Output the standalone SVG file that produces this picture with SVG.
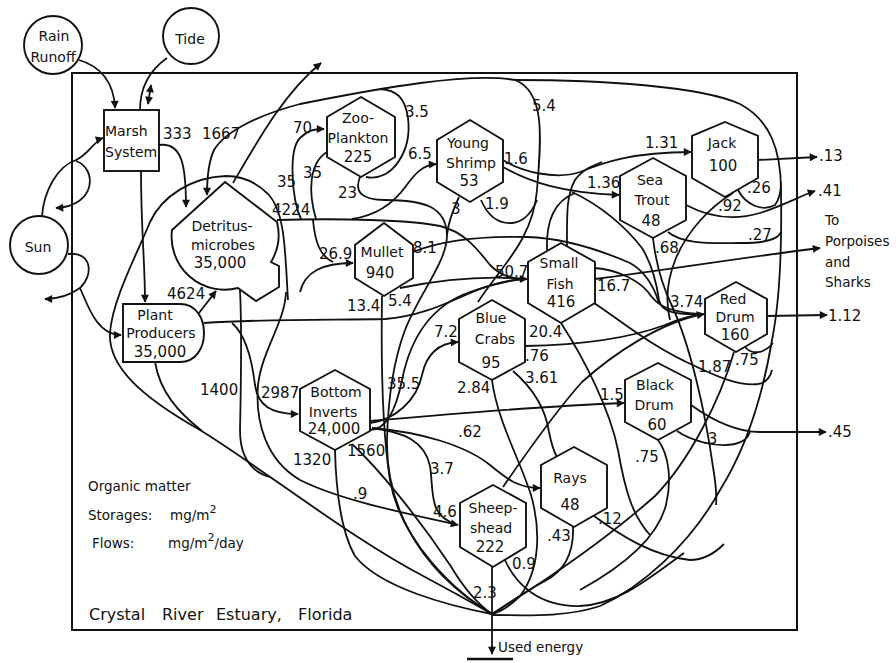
<svg xmlns="http://www.w3.org/2000/svg" width="896" height="663" viewBox="0 0 896 663">
<defs>
<marker id="ah" viewBox="0 0 10 10" refX="9" refY="5" markerWidth="11" markerHeight="8" markerUnits="userSpaceOnUse" orient="auto-start-reverse"><path d="M0,0 L10,5 L0,10 z" fill="#111"/></marker>
<style>
.l{fill:none;stroke:#111;stroke-width:1.8}
.a{marker-end:url(#ah)}
.n{fill:#fff;stroke:#111;stroke-width:1.9}
text{font-family:"DejaVu Sans",Verdana,"Liberation Sans",sans-serif;fill:#111}
.t{font-size:14px;text-anchor:middle}
.s{font-size:15px;text-anchor:middle}
.v{font-size:15px}
.g{font-size:13.5px}
</style>
</defs>
<rect width="896" height="663" fill="#fff"/>
<rect x="72" y="73" width="725" height="557" fill="none" stroke="#111" stroke-width="2"/>
<g id="connectors">
<path class="l a" d="M79,60 C100,66 114,82 115,108"/>
<path class="l" d="M167,58 C150,70 140,88 140,110"/>
<path class="l a" d="M151,85 L148,104" marker-start="url(#ah)"/>
<path class="l a" d="M42,216 C44,190 58,166 76,160 C88,155 94,141 103,138"/>
<path class="l a" d="M76,161 C97,168 97,206 56,208"/>
<path class="l a" d="M68,254 C92,251 94,275 80,288 C88,306 97,335 121,335"/>
<path class="l a" d="M80,288 C70,295 60,299 45,299"/>
<path class="l a" d="M141,171 C141,230 145,262 145,302"/>
<path class="l a" d="M159,145 C182,142 186,165 186,207"/>
<path class="l a" d="M199,313 L216,291"/>
<path class="l a" d="M478,302 C500,268 533,240 537,190 C541,140 546,92 515,80 C470,72 380,88 300,104 C262,114 226,130 214,150 C208,163 207,180 207,195"/>
<path class="l" d="M515,80 C600,80 700,86 740,104 C770,120 781,150 781,190 C782,250 780,300 772,340 C762,400 745,450 720,490 C690,545 640,588 600,606 C565,618 520,615 492,615"/>
<path class="l a" d="M233,183 C258,140 285,92 321,63"/>
<path class="l" d="M366,177 C393,182 412,150 408,118 C405,97 396,90 380,89"/>
<path class="l" d="M481,200 C487,214 497,224 512,223 C524,222 532,212 537,200"/>
<path class="l" d="M288,300 C285,255 286,213 268,194 C255,181 242,176 226,176 C192,177 162,196 150,222 C138,252 112,300 110,333 C108,366 140,396 200,430 C265,470 350,538 425,577 C455,593 478,606 492,614"/>
<path class="l" d="M155,362 C160,392 178,412 202,431"/>
<path class="l" d="M277,220 C340,218 410,220 440,226 C465,232 478,250 490,265 C500,275 510,279 527,279"/>
<path class="l a" d="M301,219 C292,200 288,150 300,138 C307,131 313,129 324,129"/>
<path class="l" d="M327,152 C309,163 308,192 316,219"/>
<path class="l a" d="M300,292 C305,272 322,263 353,263"/>
<path class="l" d="M313,220 C315,242 320,256 333,262"/>
<path class="l" d="M360,177 C354,192 362,200 385,200 C425,200 446,207 447,235 C447,262 420,292 405,330 C393,362 388,400 387,440 C386,495 410,565 492,614"/>
<path class="l" d="M459,197 C452,212 448,224 447,235"/>
<path class="l a" d="M352,219 C380,215 396,200 406,186 C416,172 424,165 436,164"/>
<path class="l a" d="M503,160 C522,172 556,180 580,172 C602,163 632,152 691,152"/>
<path class="l a" d="M503,167 C530,182 562,193 619,195"/>
<path class="l" d="M567,250 C567,215 566,196 575,180 C582,170 592,166 602,162"/>
<path class="l" d="M547,250 C546,225 552,202 575,193"/>
<path class="l" d="M572,192 C600,205 625,226 642,248 C653,266 657,286 659,300 C661,312 676,315 702,314"/>
<path class="l" d="M413,252 C440,241 482,236 527,237 C562,238 600,250 630,263 C648,273 655,290 659,303"/>
<path class="l" d="M595,268 C618,270 638,280 648,292 C655,302 662,312 702,314"/>
<path class="l a" d="M503,487 C525,455 555,412 582,382 C612,355 660,322 704,314"/>
<path class="l a" d="M595,279 C660,271 740,258 820,248"/>
<path class="l" d="M382,296 C381,360 382,430 390,480 C400,540 455,592 492,614"/>
<path class="l" d="M400,288 C430,282 480,275 526,279"/>
<path class="l a" d="M204,323 C262,319 330,320 385,319 C425,316 452,300 480,289 C496,283 510,279 527,279"/>
<path class="l a" d="M232,323 C246,335 252,360 255,385 C258,405 270,414 298,414"/>
<path class="l" d="M240,290 C242,330 241,385 240,430 C240,458 252,472 270,477"/>
<path class="l a" d="M286,292 C285,322 262,350 258,385 C255,422 266,460 300,480 C340,500 400,512 458,525"/>
<path class="l" d="M372,428 C405,432 425,442 430,466 C434,492 428,516 456,524"/>
<path class="l" d="M335,450 C336,490 340,530 355,556 C380,588 450,606 492,614"/>
<path class="l" d="M352,444 C380,470 420,520 450,565 C465,590 480,606 492,614"/>
<path class="l a" d="M370,423 C395,420 417,400 422,375 C427,352 440,343 458,342"/>
<path class="l" d="M370,430 C390,430 398,400 402,380 C410,340 430,306 470,292 C490,285 510,280 526,279"/>
<path class="l a" d="M370,421 C450,414 540,406 624,403"/>
<path class="l a" d="M372,428 C420,432 465,445 490,465 C506,478 517,488 540,488"/>
<path class="l" d="M525,346 C580,345 630,338 665,325 C682,318 692,315 704,314"/>
<path class="l" d="M513,371 C535,390 546,412 549,432 C551,442 553,450 557,457"/>
<path class="l" d="M492,380 C497,420 520,460 531,495 C541,530 540,570 520,596 C510,606 500,612 492,614"/>
<path class="l" d="M594,303 C620,320 650,346 697,367 C720,378 740,386 758,384 C765,383 770,378 772,370"/>
<path class="l" d="M745,347 C752,355 764,354 773,343"/>
<path class="l" d="M734,352 C720,400 690,460 655,496 C610,536 550,578 492,614"/>
<path class="l" d="M677,431 C690,440 715,448 735,444 C744,442 748,438 750,432"/>
<path class="l" d="M658,440 C669,455 672,480 666,505 C657,540 620,568 580,590"/>
<path class="l a" d="M691,405 C712,420 735,432 760,432 L826,432"/>
<path class="l" d="M594,516 C620,535 652,556 690,560 C705,560 716,552 724,544"/>
<path class="l" d="M573,527 C574,552 566,570 545,581 C522,593 505,606 492,614"/>
<path class="l" d="M505,560 C516,585 540,607 580,606 C620,604 652,576 684,553"/>
<path class="l" d="M738,190 C746,205 762,212 775,205 C779,200 781,192 781,182"/>
<path class="l" d="M733,193 C710,207 688,230 676,258 C667,280 665,300 670,320"/>
<path class="l" d="M653,238 C656,265 662,285 672,306 C690,345 705,410 713,467 C716,485 717,495 716,505"/>
<path class="l" d="M668,232 C680,242 700,244 740,243 C765,243 778,240 781,232"/>
<path class="l a" d="M686,205 C705,215 730,222 760,213 C785,205 800,196 815,191"/>
<path class="l a" d="M758,160 L817,157"/>
<path class="l a" d="M767,316 L827,315"/>
<path class="l" d="M561,323 C585,360 610,410 618,450 C625,490 632,515 650,535"/>
<path class="l a" d="M492,567 L492,654"/>
<path d="M467,659 H513" stroke="#111" stroke-width="2.5"/>
</g>
<g id="rain"><circle class="n" cx="53" cy="45" r="29"/><text class="t" x="54" y="41">Rain</text><text class="t" x="53" y="62">Runoff</text></g>
<g id="tide"><circle class="n" cx="191" cy="36" r="28"/><text class="t" x="190" y="44">Tide</text></g>
<g id="sun"><circle class="n" cx="39" cy="245" r="29"/><text class="t" x="38" y="252">Sun</text></g>
<g id="marsh"><rect class="n" x="104" y="110" width="55" height="61"/><text class="t" x="105" y="136" style="text-anchor:start">Marsh</text><text class="t" x="105" y="157" style="text-anchor:start">System</text></g>
<g id="detritus"><path class="n" d="M172,230 L225,182 L277,222 A53,53 0 0 1 271,262 L279,266 L279,287 L256,301 L238,288 A53,53 0 0 1 172,230 Z"/><text class="t" x="222" y="231">Detritus-</text><text class="t" x="223" y="250">microbes</text><text class="s" x="220" y="268">35,000</text></g>
<g id="plant"><path class="n" d="M123,304 H180 C196,304 204,318 204,333 C204,348 196,362 180,362 H123 Z"/><text class="t" x="155" y="320">Plant</text><text class="t" x="161" y="338">Producers</text><text class="s" x="160" y="357">35,000</text></g>
<g id="zooplankton"><polygon class="n" points="361,97 395,117 395,157 361,177 327,157 327,117"/><text class="t" x="358" y="123">Zoo-</text><text class="t" x="358" y="143">Plankton</text><text class="s" x="358" y="162">225</text></g>
<g id="youngshrimp"><polygon class="n" points="470,120 503,140 503,182 470,202 437,182 437,140"/><text class="t" x="468" y="148">Young</text><text class="t" x="471" y="168">Shrimp</text><text class="s" x="469" y="186">53</text></g>
<g id="jack"><polygon class="n" points="725,122 758,136 758,178 725,197 692,178 692,136"/><text class="t" x="722" y="148">Jack</text><text class="s" x="723" y="171">100</text></g>
<g id="seatrout"><polygon class="n" points="653,158 686,176 686,220 653,238 620,220 620,176"/><text class="t" x="650" y="185">Sea</text><text class="t" x="652" y="205">Trout</text><text class="s" x="651" y="226">48</text></g>
<g id="mullet"><polygon class="n" points="384,223 413,245 413,278 384,296 355,278 355,245"/><text class="t" x="382" y="257">Mullet</text><text class="s" x="380" y="278">940</text></g>
<g id="smallfish"><polygon class="n" points="561,243 595,262 595,303 561,323 528,303 528,262"/><text class="t" x="559" y="268">Small</text><text class="t" x="560" y="289">Fish</text><text class="s" x="561" y="307">416</text></g>
<g id="bluecrabs"><polygon class="n" points="492,300 525,319 525,362 492,380 459,362 459,319"/><text class="t" x="491" y="323">Blue</text><text class="t" x="495" y="344">Crabs</text><text class="s" x="491" y="368">95</text></g>
<g id="bottominverts"><polygon class="n" points="335,370 370,389 370,431 335,450 300,431 300,389"/><text class="t" x="336" y="397">Bottom</text><text class="t" x="333" y="417">Inverts</text><text class="s" x="334" y="434">24,000</text></g>
<g id="reddrum"><polygon class="n" points="736,282 767,299 767,334 736,352 705,334 705,299"/><text class="t" x="733" y="304">Red</text><text class="t" x="735" y="322">Drum</text><text class="s" x="735" y="340">160</text></g>
<g id="blackdrum"><polygon class="n" points="658,363 691,380 691,422 658,440 625,422 625,380"/><text class="t" x="655" y="390">Black</text><text class="t" x="654" y="410">Drum</text><text class="s" x="657" y="430">60</text></g>
<g id="rays"><polygon class="n" points="574,447 607,465 607,508 574,527 541,508 541,465"/><text class="t" x="570" y="483">Rays</text><text class="s" x="570" y="510">48</text></g>
<g id="sheepshead"><polygon class="n" points="493,485 526,503 526,547 493,567 460,547 460,503"/><text class="t" x="493" y="513">Sheep-</text><text class="t" x="491" y="533">shead</text><text class="s" x="490" y="552">222</text></g>
<g id="labels">
<text class="v" x="163" y="139">333</text>
<text class="v" x="202" y="139">1667</text>
<text class="v" x="293" y="133">70</text>
<text class="v" x="405" y="117">3.5</text>
<text class="v" x="532" y="111">5.4</text>
<text class="v" x="277" y="187">35</text>
<text class="v" x="303" y="178">35</text>
<text class="v" x="272" y="215">4224</text>
<text class="v" x="338" y="198">23</text>
<text class="v" x="408" y="159">6.5</text>
<text class="v" x="504" y="164">1.6</text>
<text class="v" x="451" y="214">3</text>
<text class="v" x="485" y="209">1.9</text>
<text class="v" x="645" y="148">1.31</text>
<text class="v" x="587" y="188">1.36</text>
<text class="v" x="747" y="193">.26</text>
<text class="v" x="718" y="211">.92</text>
<text class="v" x="748" y="240">.27</text>
<text class="v" x="655" y="253">.68</text>
<text class="v" x="597" y="291">16.7</text>
<text class="v" x="670" y="307">3.74</text>
<text class="v" x="319" y="259">26.9</text>
<text class="v" x="413" y="253">8.1</text>
<text class="v" x="495" y="277">50.7</text>
<text class="v" x="347" y="311">13.4</text>
<text class="v" x="388" y="306">5.4</text>
<text class="v" x="434" y="337">7.2</text>
<text class="v" x="529" y="337">20.4</text>
<text class="v" x="525" y="361">.76</text>
<text class="v" x="457" y="393">2.84</text>
<text class="v" x="525" y="383">3.61</text>
<text class="v" x="387" y="389">35.5</text>
<text class="v" x="458" y="437">.62</text>
<text class="v" x="200" y="395">1400</text>
<text class="v" x="261" y="398">2987</text>
<text class="v" x="167" y="299">4624</text>
<text class="v" x="293" y="465">1320</text>
<text class="v" x="347" y="456">1560</text>
<text class="v" x="353" y="499">.9</text>
<text class="v" x="430" y="474">3.7</text>
<text class="v" x="433" y="517">4.6</text>
<text class="v" x="547" y="541">.43</text>
<text class="v" x="512" y="569">0.9</text>
<text class="v" x="598" y="524">.12</text>
<text class="v" x="473" y="598">2.3</text>
<text class="v" x="600" y="400">1.5</text>
<text class="v" x="698" y="372">1.87</text>
<text class="v" x="735" y="365">.75</text>
<text class="v" x="703" y="444">.3</text>
<text class="v" x="635" y="462">.75</text>
<text class="v" x="819" y="161">.13</text>
<text class="v" x="818" y="196">.41</text>
<text class="v" x="828" y="321">1.12</text>
<text class="v" x="828" y="437">.45</text>
</g>
<g id="outputs">
<text class="g" x="825" y="225">To</text>
<text class="g" x="825" y="246">Porpoises</text>
<text class="g" x="825" y="267">and</text>
<text class="g" x="825" y="287">Sharks</text>
<text class="g" x="498" y="652">Used energy</text>
</g>
<g id="legend">
<text class="g" x="88" y="491">Organic matter</text>
<text class="g" x="88" y="520">Storages:</text>
<text class="g" x="170" y="520">mg/m<tspan dy="-7" font-size="11">2</tspan></text>
<text class="g" x="92" y="548">Flows:</text>
<text class="g" x="168" y="548">mg/m<tspan dy="-7" font-size="11">2</tspan><tspan dy="7">/day</tspan></text>
<text font-size="16"><tspan x="89" y="620">Crystal</tspan><tspan x="162" y="620">River</tspan><tspan x="216" y="620">Estuary,</tspan><tspan x="298" y="620">Florida</tspan></text>
</g>
</svg>
